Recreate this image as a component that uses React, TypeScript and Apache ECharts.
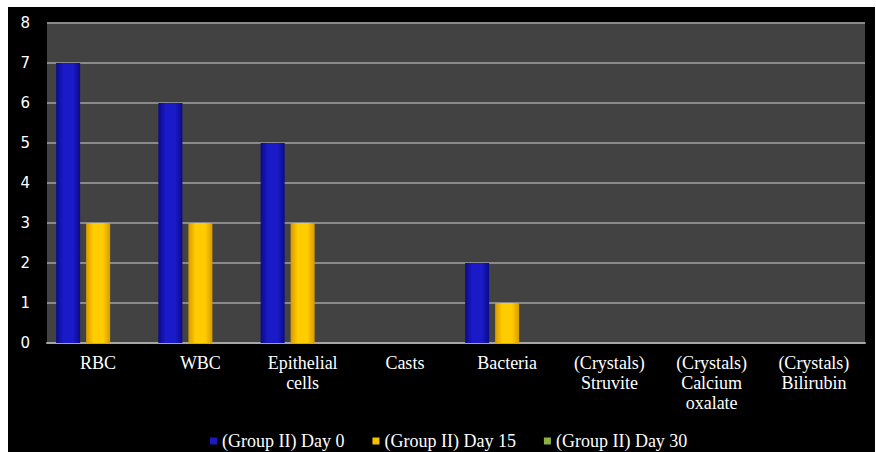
import React, { useEffect, useRef } from "react";
import * as echarts from "echarts";

const categories = [
  "RBC",
  "WBC",
  "Epithelial\ncells",
  "Casts",
  "Bacteria",
  "(Crystals)\nStruvite",
  "(Crystals)\nCalcium\noxalate",
  "(Crystals)\nBilirubin",
];

const day0 = [7, 6, 5, 0, 2, 0, 0, 0];
const day15 = [3, 3, 3, 0, 1, 0, 0, 0];
const day30 = [0, 0, 0, 0, 0, 0, 0, 0];

const seriesNames = ["(Group II) Day 0", "(Group II) Day 15", "(Group II) Day 30"];
const yTicks = { min: 0, max: 8, interval: 1 };

// Horizontal shading that gives the bars a rounded, cylindrical look
const cylinder = (edge: string, mid: string) =>
  new echarts.graphic.LinearGradient(0, 0, 1, 0, [
    { offset: 0, color: edge },
    { offset: 0.3, color: mid },
    { offset: 0.7, color: mid },
    { offset: 1, color: edge },
  ]);

export default function App() {
  const ref = useRef<HTMLDivElement>(null);

  useEffect(() => {
    if (!ref.current) return;
    const chart = echarts.init(ref.current, undefined, { renderer: "svg" });
    const serif = "Liberation Serif";
    const mkSeries = (name: string, data: number[], edge: string, mid: string, legendColor: string) => ({
      name,
      type: "bar",
      data,
      barWidth: 24,
      barGap: "25%",
      itemStyle: { color: cylinder(edge, mid) },
      emphasis: { disabled: true },
      legendColor,
    });
    const s = [
      mkSeries(seriesNames[0], day0, "#0a0a88", "#1a1ac8", "#1a1ac0"),
      mkSeries(seriesNames[1], day15, "#d99a00", "#ffcc00", "#f5c000"),
      mkSeries(seriesNames[2], day30, "#5e7a2a", "#8db045", "#8db045"),
    ];
    chart.setOption({
      animation: false,
      backgroundColor: "#000000",
      grid: {
        left: 39,
        right: 10,
        top: 16,
        bottom: 109,
        show: true,
        backgroundColor: "#424242",
        borderWidth: 0,
      },
      legend: {
        left: 197,
        top: 420,
        icon: "rect",
        itemWidth: 7,
        itemHeight: 7,
        itemGap: 28,
        textStyle: { color: "#ffffff", fontFamily: serif, fontSize: 18 },
        data: s.map((x) => ({ name: x.name, itemStyle: { color: x.legendColor } })),
      },
      xAxis: {
        type: "category",
        data: categories,
        axisLine: { lineStyle: { color: "#a6a6a6", width: 2 } },
        axisTick: { show: false },
        axisLabel: {
          color: "#ffffff",
          fontFamily: serif,
          fontSize: 18,
          lineHeight: 20,
          margin: 10,
          interval: 0,
        },
      },
      yAxis: {
        type: "value",
        min: yTicks.min,
        max: yTicks.max,
        interval: yTicks.interval,
        axisLine: { show: false },
        axisTick: { show: false },
        axisLabel: {
          color: "#ffffff",
          fontFamily: "DejaVu Sans",
          fontSize: 15,
          margin: 17,
        },
        splitLine: { lineStyle: { color: "#8a8a8a", width: 2 } },
      },
      series: s.map(({ legendColor, ...rest }) => rest),
    });
    return () => chart.dispose();
  }, []);

  return (
    <div style={{ position: "fixed", left: 0, top: 0, width: 876, height: 452, background: "#ffffff" }}>
      <div ref={ref} style={{ position: "absolute", left: 8, top: 7, width: 867, height: 445 }} />
    </div>
  );
}
